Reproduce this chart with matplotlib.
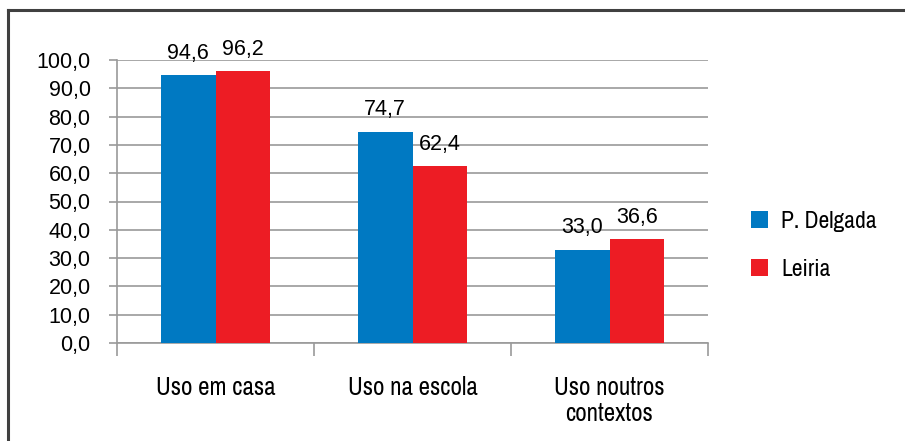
import matplotlib
matplotlib.use("Agg")
import matplotlib.pyplot as plt
from matplotlib.lines import Line2D
import numpy as np

categories = ["Uso em casa", "Uso na escola", "Uso noutros\ncontextos"]
series_names = ["P. Delgada", "Leiria"]
delgada = [94.6, 74.7, 33.0]
leiria = [96.2, 62.4, 36.6]
yticks = [0, 10, 20, 30, 40, 50, 60, 70, 80, 90, 100]

blue = "#0079C2"
red = "#ED1C24"
grid_c = "#9a9a9a"
num_font = ["Liberation Sans", "DejaVu Sans"]
cat_font = ["Archivo Narrow", "DejaVu Sans"]

fig = plt.figure(figsize=(9.05, 4.41), dpi=100)
ax = fig.add_axes([117/905, 1-343/441, (708-117)/905, (343-60)/441])

x = np.arange(len(categories))
w = 0.279
b1 = ax.bar(x - w/2, delgada, w, color=blue, label=series_names[0], zorder=3)
b2 = ax.bar(x + w/2, leiria, w, color=red, label=series_names[1], zorder=3)

for bars, vals in ((b1, delgada), (b2, leiria)):
    for r, v in zip(bars, vals):
        ax.annotate(f"{v:.1f}".replace(".", ","),
                    (r.get_x() + r.get_width()/2, r.get_height()),
                    xytext=(0, 8), textcoords="offset points",
                    ha="center", va="bottom", fontsize=15.5,
                    family=num_font)

ax.set_xlim(-0.5, 2.5)
ax.set_ylim(0, 100)
ax.set_yticks(yticks)
ax.set_yticklabels([f"{t:.1f}".replace(".", ",") for t in yticks],
                   fontsize=15.5, family=num_font)
ax.yaxis.grid(True, color=grid_c, linewidth=1.2, zorder=0)

ax.set_xticks([-0.5, 0.5, 1.5, 2.5])
ax.set_xticklabels([])
ax.set_xticks(x, minor=True)
ax.set_xticklabels(categories, minor=True, fontsize=18,
                   family=cat_font, linespacing=1.15)
ax.tick_params(axis="x", which="major", length=9, color=grid_c, width=1.2)
ax.tick_params(axis="x", which="minor", length=0, pad=24)
ax.tick_params(axis="y", length=6, color=grid_c, width=1.2, pad=13)

for s in ("top", "right"):
    ax.spines[s].set_visible(False)
for s in ("left", "bottom"):
    ax.spines[s].set_color(grid_c)
    ax.spines[s].set_linewidth(1.2)

leg = fig.legend(handles=[b1, b2], labels=series_names, loc="upper left",
                 bbox_to_anchor=(751/905, 1-211/441), frameon=False,
                 borderpad=0, borderaxespad=0,
                 handlelength=0.72, handleheight=0.72, handletextpad=0.55,
                 labelspacing=1.15,
                 prop={"family": cat_font, "size": 17})

# outer frame (top and left edges visible)
fig.add_artist(Line2D([8/905, 8/905], [0, 1-10/441], color="#404040", lw=2.2,
                      transform=fig.transFigure))
fig.add_artist(Line2D([8/905, 1], [1-10/441, 1-10/441], color="#404040", lw=2.2,
                      transform=fig.transFigure))

fig.savefig("out.png", dpi=100)
